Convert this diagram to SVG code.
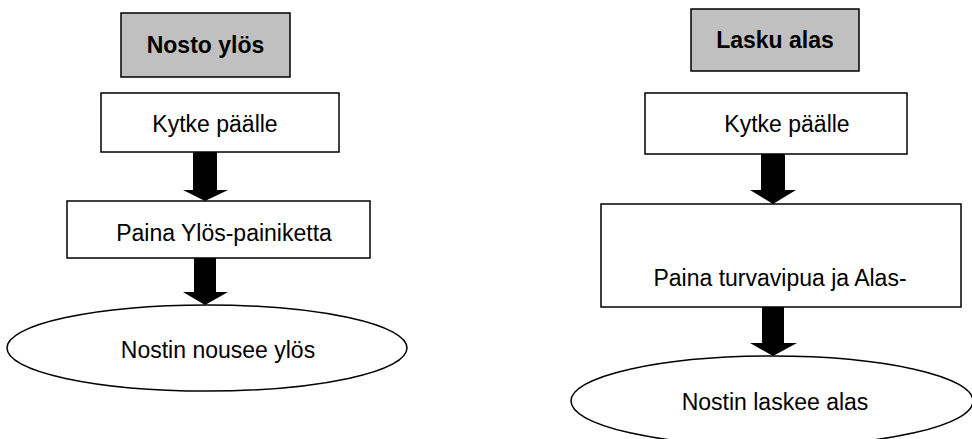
<svg xmlns="http://www.w3.org/2000/svg" width="972" height="439" viewBox="0 0 972 439">
<style>
.box{fill:#ffffff;stroke:#000000;stroke-width:1.5}
.hdr{fill:#c0c0c0;stroke:#000000;stroke-width:1.5}
.t{font-family:"Liberation Sans",Arial,sans-serif;font-size:23px;fill:#000000;text-anchor:middle}
.b{font-weight:bold}
.arr{fill:#000000}
</style>
<rect width="972" height="439" fill="#ffffff"/>
<g id="hdr-left"><rect class="hdr" x="121" y="13" width="169" height="64"/><text class="t b" x="205.5" y="53">Nosto ylös</text></g>
<g id="left-1"><rect class="box" x="101" y="93" width="238" height="59"/><text class="t" x="215" y="132">Kytke päälle</text></g>
<g id="left-2"><rect class="box" x="67" y="201" width="303" height="57"/><text class="t" x="224" y="241">Paina Ylös-painiketta</text></g>
<g id="left-3"><ellipse class="box" cx="207" cy="348" rx="200" ry="43"/><text class="t" x="218" y="358">Nostin nousee ylös</text></g>
<g id="hdr-right"><rect class="hdr" x="691" y="9" width="168" height="62"/><text class="t b" x="775" y="48">Lasku alas</text></g>
<g id="right-1"><rect class="box" x="645" y="93" width="262" height="61"/><text class="t" x="787" y="132">Kytke päälle</text></g>
<g id="right-2"><rect class="box" x="601" y="204" width="360" height="103"/><text class="t" x="780" y="286">Paina turvavipua ja Alas-</text></g>
<g id="right-3"><ellipse class="box" cx="772" cy="401" rx="201" ry="45"/><text class="t" x="775" y="410">Nostin laskee alas</text></g>
<g id="connectors">
<polygon class="arr" points="193,152 217,152 217,190 228,190 205,201 183,190 193,190"/>
<polygon class="arr" points="194,258 216,258 216,292 228,292 205,305 183,292 194,292"/>
<polygon class="arr" points="761,154 785,154 785,190 796,190 773,204 750,190 761,190"/>
<polygon class="arr" points="762,307 784,307 784,343 797,343 773,356 750,343 762,343"/>
</g>
</svg>
